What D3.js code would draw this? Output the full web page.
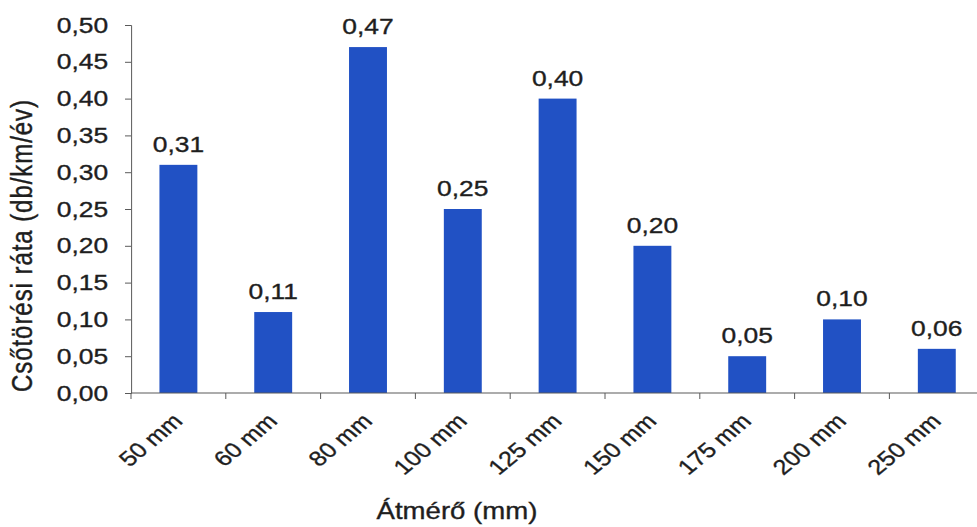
<!DOCTYPE html>
<html>
<head>
<meta charset="utf-8">
<script src="https://cdn.jsdelivr.net/npm/d3@7"></script>
<style>
  html, body { margin: 0; padding: 0; background: #fff; overflow: hidden; }
  text { font-family: "Liberation Sans", Arial, sans-serif; fill: #1e1e1e; stroke: #1e1e1e; stroke-width: 0.35px; }
</style>
</head>
<body>
<svg id="chart" width="977" height="527"></svg>
<script>
// Pipe break rate by nominal diameter
const categories = ["50 mm", "60 mm", "80 mm", "100 mm", "125 mm", "150 mm", "175 mm", "200 mm", "250 mm"];
const rates = [0.31, 0.11, 0.47, 0.25, 0.40, 0.20, 0.05, 0.10, 0.06];
const yTicks = [0, 0.05, 0.10, 0.15, 0.20, 0.25, 0.30, 0.35, 0.40, 0.45, 0.50];

const fmt = v => d3.format(".2f")(v).replace(".", ",");

// The chart is laid out in a frame that is widened horizontally by SX.
const SX = 1.2;
const ux = v => v / SX;

const svg = d3.select("#chart");
const root = svg.append("g").attr("transform", `scale(${SX},1)`);

const plotLeft = 131, plotTop = 25, plotBottom = 393;
const step = 94.8;

const x = d3.scaleBand()
  .domain(categories)
  .range([ux(plotLeft), ux(plotLeft + step * categories.length)])
  .paddingInner(0.6)
  .paddingOuter(0.3);

const y = d3.scaleLinear().domain([0, 0.5]).range([plotBottom, plotTop]);

// bars
root.append("g").selectAll("rect")
  .data(categories)
  .join("rect")
  .attr("x", d => x(d))
  .attr("width", x.bandwidth())
  .attr("y", (d, i) => y(rates[i]))
  .attr("height", (d, i) => y(0) - y(rates[i]))
  .attr("fill", "#2151c4");

// value labels
root.append("g").selectAll("text")
  .data(categories)
  .join("text")
  .attr("x", d => x(d) + x.bandwidth() / 2)
  .attr("y", (d, i) => y(rates[i]) - 13)
  .attr("text-anchor", "middle")
  .attr("font-size", 22)
  .text((d, i) => fmt(rates[i]));

// y axis
const yAxis = d3.axisLeft(y)
  .tickValues(yTicks)
  .tickFormat(fmt)
  .tickSize(5)
  .tickPadding(14);
const gy = root.append("g").attr("transform", `translate(${ux(plotLeft)},0)`).call(yAxis);
gy.select(".domain").attr("stroke", "#5a5a5a").attr("vector-effect", "non-scaling-stroke");
gy.selectAll(".tick line").attr("stroke", "#5a5a5a");
gy.selectAll(".tick text")
  .attr("font-size", 22)
  .attr("font-family", "Liberation Sans, Arial, sans-serif")
  .attr("fill", "#1e1e1e");

// x axis: baseline with ticks at category boundaries
const gx = root.append("g");
gx.append("line")
  .attr("x1", ux(plotLeft)).attr("x2", ux(plotLeft + step * categories.length))
  .attr("y1", y(0)).attr("y2", y(0))
  .attr("stroke", "#5a5a5a");
const bounds = d3.range(categories.length + 1).map(i => ux(plotLeft + i * step));
gx.selectAll("line.tk")
  .data(bounds)
  .join("line")
  .attr("class", "tk")
  .attr("x1", d => d).attr("x2", d => d)
  .attr("y1", y(0)).attr("y2", y(0) + 6)
  .attr("stroke", "#5a5a5a")
  .attr("vector-effect", "non-scaling-stroke");

// rotated category labels
gx.selectAll("text")
  .data(categories)
  .join("text")
  .attr("transform", d => `translate(${x(d) + x.bandwidth() / 2 + ux(-7)},${y(0) + 19}) rotate(-45)`)
  .attr("text-anchor", "end")
  .attr("dy", "0.7em")
  .attr("font-size", 21)
  .text(d => d);

// axis titles
root.append("text")
  .attr("x", ux(457))
  .attr("y", 519)
  .attr("text-anchor", "middle")
  .attr("font-size", 23)
  .text("Átmérő (mm)");

root.append("text")
  .attr("transform", `translate(${ux(32)},246) rotate(-90)`)
  .attr("text-anchor", "middle")
  .attr("font-size", 24)
  .attr("textLength", 292)
  .attr("lengthAdjust", "spacing")
  .text("Csőtörési ráta (db/km/év)");
</script>
</body>
</html>
